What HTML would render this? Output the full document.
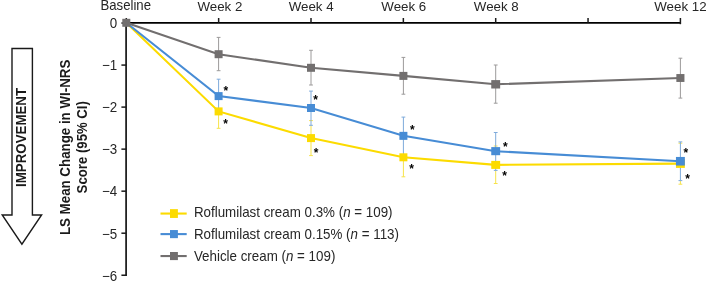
<!DOCTYPE html>
<html><head><meta charset="utf-8"><title>Chart</title>
<style>html,body{margin:0;padding:0;background:#fff}svg{display:block}text{font-family:"Liberation Sans",sans-serif;font-size:13.9px;fill:#262626}.b{font-weight:bold;font-size:13px;fill:#1a1a1a}</style></head><body>
<svg width="707" height="281" viewBox="0 0 707 281">
<rect width="707" height="281" fill="#fff"/>
<path d="M12.0 48.5 H32.4 V215 H41.6 L21.9 244.2 L2.2 215 H12.0 Z" fill="#fff" stroke="#1a1a1a" stroke-width="1.4" stroke-linejoin="miter"/>
<text class="b" transform="translate(26.1 187.0) rotate(-90) scale(1.0248 1.077)">IMPROVEMENT</text>
<text class="b" transform="translate(70 235.1) rotate(-90) scale(1.0259 1.077)">LS Mean Change in WI-NRS</text>
<text class="b" transform="translate(87.0 193.4) rotate(-90) scale(1.0148 1.077)">Score (95% CI)</text>
<g stroke="#000" fill="none">
<path d="M126.1 22.9 H680.4" stroke-width="1.9"/>
<path d="M126.1 22.8 V275.9" stroke-width="1.8" stroke="#222"/>
<path d="M126.30 18 V22.8" stroke-width="1.5" stroke="#1a1a1a"/>
<path d="M218.65 18 V22.8" stroke-width="1.5" stroke="#1a1a1a"/>
<path d="M311.00 18 V22.8" stroke-width="1.5" stroke="#1a1a1a"/>
<path d="M403.35 18 V22.8" stroke-width="1.5" stroke="#1a1a1a"/>
<path d="M495.70 18 V22.8" stroke-width="1.5" stroke="#1a1a1a"/>
<path d="M588.05 18 V22.8" stroke-width="1.5" stroke="#1a1a1a"/>
<path d="M680.40 18 V24.2" stroke-width="1.5" stroke="#1a1a1a"/>
<path d="M121.4 23.05 H126.3" stroke-width="1.5" stroke="#1a1a1a"/>
<path d="M121.4 65.08 H126.3" stroke-width="1.5" stroke="#1a1a1a"/>
<path d="M121.4 107.11 H126.3" stroke-width="1.5" stroke="#1a1a1a"/>
<path d="M121.4 149.14 H126.3" stroke-width="1.5" stroke="#1a1a1a"/>
<path d="M121.4 191.17 H126.3" stroke-width="1.5" stroke="#1a1a1a"/>
<path d="M121.4 233.20 H126.3" stroke-width="1.5" stroke="#1a1a1a"/>
<path d="M121.4 275.23 H126.3" stroke-width="1.5" stroke="#1a1a1a"/>
</g>
<text transform="translate(125.7 10.25) scale(1.015 1.077)" text-anchor="middle" style="font-size:13px">Baseline</text>
<text transform="translate(219.9 10.55) scale(0.98 1)" text-anchor="middle" style="font-size:13.6px">Week 2</text>
<text transform="translate(311.1 10.55) scale(0.98 1)" text-anchor="middle" style="font-size:13.6px">Week 4</text>
<text transform="translate(403.8 10.55) scale(0.98 1)" text-anchor="middle" style="font-size:13.6px">Week 6</text>
<text transform="translate(496.3 10.55) scale(0.98 1)" text-anchor="middle" style="font-size:13.6px">Week 8</text>
<text transform="translate(680.4 10.55) scale(0.98 1)" text-anchor="middle" style="font-size:13.6px">Week 12</text>
<text transform="translate(117.2 28.2) scale(0.962 1)" text-anchor="end">0</text>
<text transform="translate(117.2 70.2) scale(0.962 1)" text-anchor="end">−1</text>
<text transform="translate(117.2 112.3) scale(0.962 1)" text-anchor="end">−2</text>
<text transform="translate(117.2 154.3) scale(0.962 1)" text-anchor="end">−3</text>
<text transform="translate(117.2 196.4) scale(0.962 1)" text-anchor="end">−4</text>
<text transform="translate(117.2 238.5) scale(0.962 1)" text-anchor="end">−5</text>
<text transform="translate(117.2 280.5) scale(0.962 1)" text-anchor="end">−6</text>
<path d="M218.6 113.0 V128.3 M216.7 94.7 h3.8 M216.7 128.3 h3.8" stroke="#f7e34a" stroke-width="1" fill="none"/>
<path d="M311.0 125.3 V155.6 M309.1 120.6 h3.8 M309.1 155.6 h3.8" stroke="#f7e34a" stroke-width="1" fill="none"/>
<path d="M403.4 154.7 V176.8 M401.5 138.8 h3.8 M401.5 176.8 h3.8" stroke="#f7e34a" stroke-width="1" fill="none"/>
<path d="M495.7 170.4 V183.5 M493.8 146.0 h3.8 M493.8 183.5 h3.8" stroke="#f7e34a" stroke-width="1" fill="none"/>
<path d="M680.4 180.6 V184.2 M678.5 143.2 h3.8 M678.5 184.2 h3.8" stroke="#f7e34a" stroke-width="1" fill="none"/>
<path d="M218.6 79.2 V113.0 M216.7 79.2 h3.8 M216.7 113.0 h3.8" stroke="#7eaadb" stroke-width="1" fill="none"/>
<path d="M311.0 91.1 V125.3 M309.1 91.1 h3.8 M309.1 125.3 h3.8" stroke="#7eaadb" stroke-width="1" fill="none"/>
<path d="M403.4 117.1 V154.7 M401.5 117.1 h3.8 M401.5 154.7 h3.8" stroke="#7eaadb" stroke-width="1" fill="none"/>
<path d="M495.7 132.5 V170.4 M493.8 132.5 h3.8 M493.8 170.4 h3.8" stroke="#7eaadb" stroke-width="1" fill="none"/>
<path d="M680.4 141.9 V180.6 M678.5 141.9 h3.8 M678.5 180.6 h3.8" stroke="#7eaadb" stroke-width="1" fill="none"/>
<path d="M218.6 37.4 V70.7 M216.7 37.4 h3.8 M216.7 70.7 h3.8" stroke="#9c9a9a" stroke-width="1" fill="none"/>
<path d="M311.0 50.3 V85.0 M309.1 50.3 h3.8 M309.1 85.0 h3.8" stroke="#9c9a9a" stroke-width="1" fill="none"/>
<path d="M403.4 57.4 V94.2 M401.5 57.4 h3.8 M401.5 94.2 h3.8" stroke="#9c9a9a" stroke-width="1" fill="none"/>
<path d="M495.7 65.0 V103.2 M493.8 65.0 h3.8 M493.8 103.2 h3.8" stroke="#9c9a9a" stroke-width="1" fill="none"/>
<path d="M680.4 58.2 V98.1 M678.5 58.2 h3.8 M678.5 98.1 h3.8" stroke="#9c9a9a" stroke-width="1" fill="none"/>
<polyline points="126.3,22.8 218.6,111.4 311.0,138.1 403.4,157.3 495.7,164.9 680.4,163.6" fill="none" stroke="#fcdb00" stroke-width="2.1"/>
<rect x="214.60" y="107.40" width="8.0" height="8.0" fill="#fcdb00"/>
<rect x="307.00" y="134.10" width="8.0" height="8.0" fill="#fcdb00"/>
<rect x="399.40" y="153.30" width="8.0" height="8.0" fill="#fcdb00"/>
<rect x="491.25" y="160.90" width="8.9" height="8.0" fill="#fcdb00"/>
<rect x="675.95" y="159.30" width="8.9" height="8.6" fill="#fcdb00"/>
<polyline points="126.3,22.8 218.6,96.1 311.0,108.0 403.4,135.8 495.7,151.2 680.4,161.2" fill="none" stroke="#478cd5" stroke-width="2.1"/>
<rect x="214.60" y="92.10" width="8.0" height="8.0" fill="#478cd5"/>
<rect x="307.00" y="104.00" width="8.0" height="8.0" fill="#478cd5"/>
<rect x="399.40" y="131.85" width="8.0" height="8.0" fill="#478cd5"/>
<rect x="491.25" y="147.10" width="8.9" height="8.1" fill="#478cd5"/>
<rect x="675.95" y="156.95" width="8.9" height="8.6" fill="#478cd5"/>
<polyline points="126.3,22.8 218.6,54.2 311.0,67.8 403.4,75.9 495.7,84.3 680.4,78.0" fill="none" stroke="#726f6f" stroke-width="2.1"/>
<rect x="122.30" y="18.80" width="8.0" height="8.0" fill="#726f6f"/>
<rect x="214.60" y="50.20" width="8.0" height="8.0" fill="#726f6f"/>
<rect x="307.00" y="63.80" width="8.0" height="8.0" fill="#726f6f"/>
<rect x="399.40" y="71.90" width="8.0" height="8.0" fill="#726f6f"/>
<rect x="491.25" y="80.10" width="8.9" height="8.4" fill="#726f6f"/>
<rect x="676.35" y="74.05" width="8.1" height="7.9" fill="#726f6f"/>
<text x="225.8" y="95.1" text-anchor="middle" style="fill:#000;font-weight:bold;font-size:12px">*</text>
<text x="225.6" y="128.4" text-anchor="middle" style="fill:#000;font-weight:bold;font-size:12px">*</text>
<text x="315.5" y="104.4" text-anchor="middle" style="fill:#000;font-weight:bold;font-size:12px">*</text>
<text x="316.1" y="156.6" text-anchor="middle" style="fill:#000;font-weight:bold;font-size:12px">*</text>
<text x="412.4" y="133.8" text-anchor="middle" style="fill:#000;font-weight:bold;font-size:12px">*</text>
<text x="411.6" y="172.5" text-anchor="middle" style="fill:#000;font-weight:bold;font-size:12px">*</text>
<text x="505.4" y="150.5" text-anchor="middle" style="fill:#000;font-weight:bold;font-size:12px">*</text>
<text x="504.7" y="180.1" text-anchor="middle" style="fill:#000;font-weight:bold;font-size:12px">*</text>
<text x="685.8" y="156.8" text-anchor="middle" style="fill:#000;font-weight:bold;font-size:12px">*</text>
<text x="687.5" y="182.8" text-anchor="middle" style="fill:#000;font-weight:bold;font-size:12px">*</text>
<path d="M160.5 213.55 H186.7" stroke="#fcdb00" stroke-width="2.1"/>
<rect x="170.0" y="209.15" width="7.9" height="8.8" fill="#fcdb00"/>
<text transform="translate(193.9 216.75) scale(0.962 1)">Roflumilast cream 0.3% (<tspan font-style="italic">n</tspan> = 109)</text>
<path d="M160.5 234.10 H186.7" stroke="#478cd5" stroke-width="2.1"/>
<rect x="170.0" y="230.05" width="7.9" height="8.1" fill="#478cd5"/>
<text transform="translate(193.9 238.75) scale(0.962 1)">Roflumilast cream 0.15% (<tspan font-style="italic">n</tspan> = 113)</text>
<path d="M160.5 256.05 H186.7" stroke="#726f6f" stroke-width="2.1"/>
<rect x="170.0" y="252.00" width="7.9" height="8.1" fill="#726f6f"/>
<text transform="translate(193.9 260.75) scale(0.962 1)">Vehicle cream (<tspan font-style="italic">n</tspan> = 109)</text>
</svg></body></html>
